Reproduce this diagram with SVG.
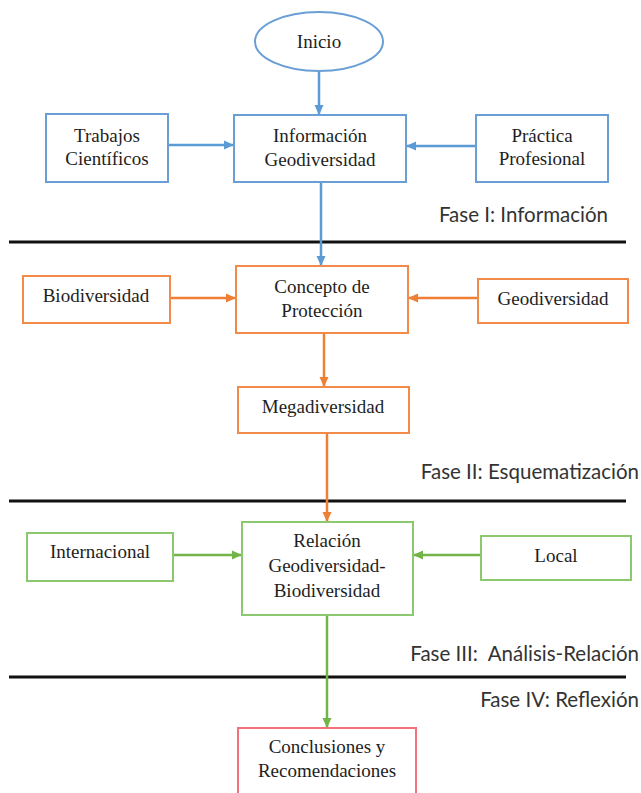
<svg xmlns="http://www.w3.org/2000/svg" width="641" height="793" viewBox="0 0 641 793">
<style>
.box{fill:#fff;stroke-width:2}
.b{stroke:#6a9fd6}
.o{stroke:#f28a4a}
.g{stroke:#8cc870}
.r{stroke:#f4717b}
.t{font-family:"Liberation Serif","Times New Roman",serif;font-size:19px;fill:#1e1e1e;text-anchor:middle}
.f{font-family:Lato,"Liberation Sans",sans-serif;font-size:20.5px;fill:#333;text-anchor:end}
.c{fill:none;stroke-width:2.5}
.sep{stroke:#111;stroke-width:3}
</style>
<defs>
<marker id="ab" markerWidth="10" markerHeight="10" refX="9" refY="5" orient="auto" markerUnits="userSpaceOnUse"><path d="M0,0.5 L10,5 L0,9.5 Z" fill="#5b9bd5"/></marker>
<marker id="ao" markerWidth="10" markerHeight="10" refX="9" refY="5" orient="auto" markerUnits="userSpaceOnUse"><path d="M0,0.5 L10,5 L0,9.5 Z" fill="#f07f36"/></marker>
<marker id="ag" markerWidth="10" markerHeight="10" refX="9" refY="5" orient="auto" markerUnits="userSpaceOnUse"><path d="M0,0.5 L10,5 L0,9.5 Z" fill="#72b448"/></marker>
</defs>

<g id="separators">
<line class="sep" x1="9" y1="242" x2="626" y2="242"/>
<line class="sep" x1="9" y1="501" x2="626" y2="501"/>
<line class="sep" x1="9" y1="677" x2="626" y2="677"/>
</g>

<g id="phase-labels">
<text class="f" x="608" y="222">Fase I: Información</text>
<text class="f" x="639" y="479">Fase II: Esquematización</text>
<text class="f" x="639" y="661" xml:space="preserve">Fase III:  Análisis-Relación</text>
<text class="f" x="639" y="707">Fase IV: Reflexión</text>
</g>

<g id="connectors">
<line class="c" stroke="#5b9bd5" x1="319" y1="71" x2="319" y2="114" marker-end="url(#ab)"/>
<line class="c" stroke="#5b9bd5" x1="168" y1="145" x2="233" y2="145" marker-end="url(#ab)"/>
<line class="c" stroke="#5b9bd5" x1="476" y1="146" x2="407" y2="146" marker-end="url(#ab)"/>
<line class="c" stroke="#5b9bd5" x1="321" y1="182" x2="321" y2="265" marker-end="url(#ab)"/>
<line class="c" stroke="#f07f36" x1="170" y1="298" x2="235" y2="298" marker-end="url(#ao)"/>
<line class="c" stroke="#f07f36" x1="478" y1="298" x2="409" y2="298" marker-end="url(#ao)"/>
<line class="c" stroke="#f07f36" x1="324" y1="333" x2="324" y2="386" marker-end="url(#ao)"/>
<line class="c" stroke="#f07f36" x1="327" y1="433" x2="327" y2="521" marker-end="url(#ao)"/>
<line class="c" stroke="#72b448" x1="173" y1="555" x2="241" y2="555" marker-end="url(#ag)"/>
<line class="c" stroke="#72b448" x1="481" y1="555" x2="414" y2="555" marker-end="url(#ag)"/>
<line class="c" stroke="#72b448" x1="327" y1="615" x2="327" y2="727" marker-end="url(#ag)"/>
</g>

<g id="inicio">
<ellipse class="box b" cx="319" cy="41.5" rx="64" ry="29.5"/>
<text class="t" x="319" y="48">Inicio</text>
</g>
<g id="informacion">
<rect class="box b" x="234" y="115" width="172" height="67"/>
<text class="t" x="320" y="142">Información</text>
<text class="t" x="320" y="166">Geodiversidad</text>
</g>
<g id="trabajos">
<rect class="box b" x="46" y="114" width="122" height="68"/>
<text class="t" x="107" y="142">Trabajos</text>
<text class="t" x="107" y="165">Científicos</text>
</g>
<g id="practica">
<rect class="box b" x="476" y="115" width="132" height="67"/>
<text class="t" x="542" y="142">Práctica</text>
<text class="t" x="542" y="165">Profesional</text>
</g>

<g id="concepto">
<rect class="box o" x="236" y="266" width="172" height="67"/>
<text class="t" x="322" y="293">Concepto de</text>
<text class="t" x="322" y="317">Protección</text>
</g>
<g id="biodiversidad">
<rect class="box o" x="23" y="276" width="147" height="47"/>
<text class="t" x="96" y="302">Biodiversidad</text>
</g>
<g id="geodiversidad">
<rect class="box o" x="478" y="279" width="150" height="44"/>
<text class="t" x="553" y="305">Geodiversidad</text>
</g>
<g id="megadiversidad">
<rect class="box o" x="238" y="387" width="171" height="46"/>
<text class="t" x="323" y="413">Megadiversidad</text>
</g>

<g id="relacion">
<rect class="box g" x="242" y="522" width="171" height="93"/>
<text class="t" x="327" y="547">Relación</text>
<text class="t" x="327" y="572">Geodiversidad-</text>
<text class="t" x="327" y="597">Biodiversidad</text>
</g>
<g id="internacional">
<rect class="box g" x="27" y="533" width="146" height="48"/>
<text class="t" x="100" y="558">Internacional</text>
</g>
<g id="local">
<rect class="box g" x="481" y="536" width="150" height="44"/>
<text class="t" x="556" y="562">Local</text>
</g>

<g id="conclusiones">
<rect class="box r" x="238" y="728" width="178" height="80"/>
<text class="t" x="327" y="753">Conclusiones y</text>
<text class="t" x="327" y="777">Recomendaciones</text>
</g>
</svg>
